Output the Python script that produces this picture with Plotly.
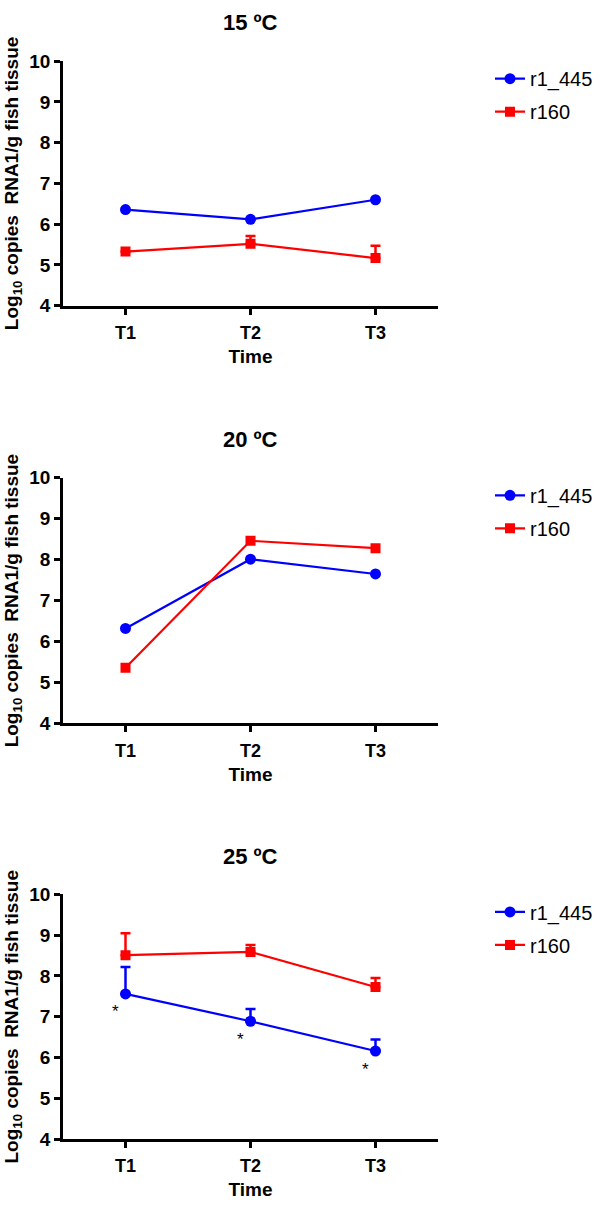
import plotly.graph_objects as go

times = ["T1", "T2", "T3"]
x_pos = [1, 2, 3]
panel_titles = ["15 ºC", "20 ºC", "25 ºC"]

# means and upper error (SEM) per time point
r1_445_15 = [6.36, 6.12, 6.60]
r1_445_15_err = [0.0, 0.0, 0.0]
r160_15 = [5.33, 5.52, 5.17]
r160_15_err = [0.0, 0.19, 0.30]

r1_445_20 = [6.32, 8.01, 7.65]
r1_445_20_err = [0.0, 0.0, 0.0]
r160_20 = [5.36, 8.46, 8.28]
r160_20_err = [0.0, 0.0, 0.0]

r1_445_25 = [7.56, 6.89, 6.16]
r1_445_25_err = [0.66, 0.30, 0.28]
r160_25 = [8.51, 8.59, 7.73]
r160_25_err = [0.54, 0.17, 0.22]

star_25 = ["*", "*", "*"]

blue = "#0000FF"
red = "#FF0000"
FONT = "Liberation Sans, Arial, sans-serif"

W, H = 602, 1212
x_dom = [63 / W, 438 / W]
panels_px = [(52, 301), (476, 726), (900, 1149)]
legend_top_px = [50, 474, 898]

data = [
    (r1_445_15, r1_445_15_err, r160_15, r160_15_err),
    (r1_445_20, r1_445_20_err, r160_20, r160_20_err),
    (r1_445_25, r1_445_25_err, r160_25, r160_25_err),
]

fig = go.Figure()
annotations = []
layout = {}

for i, (b, be, r, re) in enumerate(data):
    n = "" if i == 0 else str(i + 1)
    xa, ya = "x" + n, "y" + n
    leg = "legend" + n
    for vals, errs, name, col, sym in [
        (b, be, "r1_445", blue, "circle"),
        (r, re, "r160", red, "square"),
    ]:
        fig.add_trace(go.Scatter(
            x=x_pos, y=vals, name=name, mode="lines+markers",
            line=dict(color=col, width=2.2),
            marker=dict(color=col, size=11 if sym == "circle" else 10, symbol=sym),
            error_y=dict(type="data", array=errs, arrayminus=[0] * 3, symmetric=False,
                         color=col, thickness=2.5, width=5, visible=any(e > 0 for e in errs)),
            xaxis=xa, yaxis=ya, legend=leg, legendgroup=name + n, showlegend=True,
            hoverinfo="skip",
        ))
    top, bot = panels_px[i]
    layout["xaxis" + n] = dict(
        domain=x_dom, anchor=ya, range=[0.5, 3.5], tickvals=x_pos, ticktext=times,
        showline=True, linecolor="black", linewidth=2.5, ticks="outside", ticklen=6,
        tickwidth=2.5, tickcolor="black", showgrid=False, zeroline=False,
        ticklabelstandoff=3,
        tickfont=dict(family=FONT, size=18, color="black", weight="bold"),
        title=dict(text="<b>Time</b>", font=dict(family=FONT, size=19, color="black"), standoff=8),
    )
    layout["yaxis" + n] = dict(
        domain=[1 - bot / H, 1 - top / H], anchor=xa, range=[4, 10], dtick=1,
        tick0=4, showline=True, linecolor="black", linewidth=2.5, ticks="outside",
        ticklen=6, tickwidth=2.5, tickcolor="black", showgrid=False, zeroline=False,
        tickfont=dict(family=FONT, size=19, color="black", weight="bold"),
        title=dict(text="<b>Log<sub>10</sub> copies&nbsp; RNA1/g fish tissue</b>",
                   font=dict(family=FONT, size=19, color="black"), standoff=6),
    )
    layout[leg] = dict(
        x=490 / W, xanchor="left", y=1 - legend_top_px[i] / H, yanchor="top",
        font=dict(family=FONT, size=20, color="black"), bgcolor="rgba(0,0,0,0)",
        tracegroupgap=4, itemwidth=30,
    )
    annotations.append(dict(
        text="<b>" + panel_titles[i] + "</b>", x=250.5 / W, y=1 - (top - 39) / H,
        xref="paper", yref="paper", showarrow=False, yanchor="middle",
        font=dict(family=FONT, size=22, color="black"),
    ))

for xi, yi, s in zip(x_pos, r1_445_25, star_25):
    annotations.append(dict(
        text=s, x=xi, y=yi, xref="x3", yref="y3", showarrow=False,
        xshift=-10, yshift=-18, font=dict(family=FONT, size=17, color="black"),
    ))

fig.update_layout(
    width=W, height=H, margin=dict(l=0, r=0, t=0, b=0),
    plot_bgcolor="white", paper_bgcolor="white",
    annotations=annotations, **layout,
)

fig.write_html("out.html", config={"displayModeBar": False},
               post_script="document.body.style.margin='0';")
